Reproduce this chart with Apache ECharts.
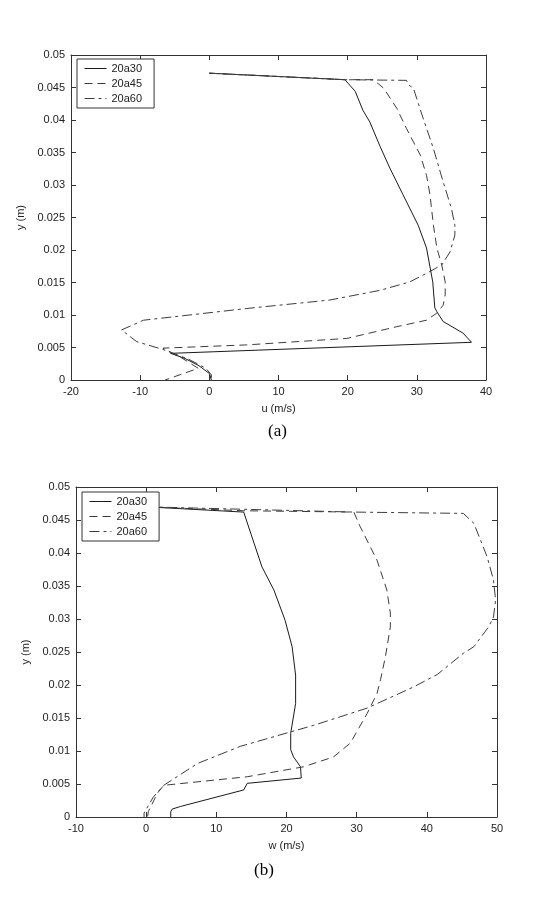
<!DOCTYPE html>
<html>
<head>
<meta charset="utf-8">
<script src="https://cdn.jsdelivr.net/npm/echarts@6/dist/echarts.min.js"></script>
<style>
  html, body { margin: 0; padding: 0; background: #fff; }
  #chart { width: 537px; height: 912px; }
</style>
</head>
<body>
<div id="chart"></div>
<script>
// names shown in both legends
const names = ["20a30", "20a45", "20a60"];

// (a) u (m/s) vs y (m)
const a30_u = [0, 19.6, 21.1, 22.2, 23.2, 24.7, 26.1, 28.0, 30.2, 31.4, 32.3, 32.6, 32.9, 33.8, 36.7, 37.9, -5.6, -3.5, -1.5, 0, 0.3];
const a30_y = [0.0472, 0.0462, 0.0444, 0.0415, 0.0397, 0.0359, 0.0326, 0.0285, 0.0238, 0.0203, 0.0151, 0.0111, 0.0105, 0.0090, 0.0072, 0.0058, 0.0041, 0.0033, 0.0022, 0.0010, 0];

const a45_u = [0, 19.6, 23.7, 25.2, 27.1, 28.5, 30.5, 31.4, 31.9, 32.4, 32.9, 33.6, 34.1, 34.1, 33.8, 32.9, 31.4, 27.1, 19.9, 5.4, -6.7, -4.0, -1.6, -6.4];
const a45_y = [0.0472, 0.0462, 0.0462, 0.0449, 0.0418, 0.0387, 0.0346, 0.0315, 0.0285, 0.0238, 0.0203, 0.0177, 0.0151, 0.0131, 0.0115, 0.0103, 0.0092, 0.0082, 0.0064, 0.0054, 0.0049, 0.0034, 0.0018, 0];

const a60_u = [0, 19.6, 28.5, 28.8, 29.5, 30.9, 32.4, 33.8, 35.0, 35.5, 35.5, 34.8, 33.6, 31.9, 29.0, 24.7, 17.4, 5.4, -9.5, -12.7, -10.5, -6.7, -3.0, -0.5, 0.3, 0.3];
const a60_y = [0.0472, 0.0462, 0.0461, 0.0454, 0.0449, 0.0403, 0.0356, 0.0305, 0.0264, 0.0238, 0.0223, 0.0197, 0.0177, 0.0167, 0.0151, 0.0138, 0.0123, 0.0110, 0.0092, 0.0077, 0.0059, 0.0047, 0.0032, 0.0018, 0.0008, 0];

// (b) w (m/s) vs y (m)
const b30_w = [0, 13.9, 14.9, 16.5, 18.2, 19.8, 20.8, 21.3, 21.3, 20.6, 20.6, 21.0, 22.0, 22.1, 14.4, 13.9, 4.9, 3.7, 3.5, 3.5];
const b30_y = [0.0470, 0.0462, 0.0430, 0.0379, 0.0344, 0.0298, 0.0258, 0.0215, 0.0172, 0.0127, 0.0102, 0.0091, 0.0076, 0.0059, 0.0051, 0.0041, 0.0016, 0.0012, 0.0008, 0];

const b45_w = [0, 13.9, 29.6, 30.5, 32.9, 34.3, 34.8, 34.8, 34.1, 33.4, 32.9, 31.5, 29.1, 26.7, 22.4, 14.4, 2.5, 1.6, 0.3, 0.2];
const b45_y = [0.0470, 0.0464, 0.0462, 0.0440, 0.0389, 0.0344, 0.0309, 0.0288, 0.0243, 0.0208, 0.0187, 0.0157, 0.0112, 0.0091, 0.0076, 0.0061, 0.0048, 0.0036, 0.0008, 0];

const b60_w = [0, 29.6, 45.2, 46.7, 48.6, 49.5, 49.8, 49.5, 48.8, 46.7, 45.2, 41.5, 38.1, 31.5, 23.9, 20.6, 13.4, 7.3, 2.5, 1.0, -0.3, -0.3];
const b60_y = [0.0470, 0.0462, 0.0460, 0.0445, 0.0394, 0.0359, 0.0329, 0.0303, 0.0288, 0.0258, 0.0248, 0.0216, 0.0197, 0.0165, 0.0139, 0.0129, 0.0107, 0.0081, 0.0048, 0.0030, 0.0006, 0];

const pts = (xs, ys) => xs.map((x, i) => [x, ys[i]]);

const ink = "#222";
const font = "Liberation Sans";

const styles = {
  "20a30": { color: "#1a1a1a", type: "solid" },
  "20a45": { color: "#3c3c3c", type: [8, 5] },
  "20a60": { color: "#3c3c3c", type: [10, 4, 3, 4] },
};

function lineSeries(name, data, xi, yi) {
  return {
    name: name,
    type: "line",
    xAxisIndex: xi,
    yAxisIndex: yi,
    data: data,
    symbol: "none",
    animation: false,
    lineStyle: { width: 1, color: styles[name].color, type: styles[name].type },
    itemStyle: { color: styles[name].color },
  };
}

function xAx(grid, min, max, name, top) {
  return {
    type: "value",
    gridIndex: grid,
    position: top ? "top" : "bottom",
    min: min,
    max: max,
    interval: 10,
    name: top ? "" : name,
    nameLocation: "middle",
    nameGap: 23,
    nameTextStyle: { fontFamily: font, fontSize: 11, color: ink },
    axisLine: { show: true, onZero: false, lineStyle: { color: "#333", width: 1 } },
    axisTick: { show: true, inside: true, length: 5, lineStyle: { color: "#333" } },
    axisLabel: { show: !top, fontFamily: font, fontSize: 11, color: ink, margin: 6 },
    splitLine: { show: false },
  };
}

function yAx(grid, right) {
  return {
    type: "value",
    gridIndex: grid,
    position: right ? "right" : "left",
    min: 0,
    max: 0.05,
    interval: 0.005,
    name: right ? "" : "y (m)",
    nameLocation: "middle",
    nameGap: 36,
    nameTextStyle: { fontFamily: font, fontSize: 11, color: ink },
    axisLine: { show: true, onZero: false, lineStyle: { color: "#333", width: 1 } },
    axisTick: { show: true, inside: true, length: 5, lineStyle: { color: "#333" } },
    axisLabel: {
      show: !right,
      fontFamily: font,
      fontSize: 11,
      color: ink,
      margin: 6,
      formatter: (v) => (v === 0 ? "0" : String(+v.toFixed(3))),
    },
    splitLine: { show: false },
  };
}

function legendAt(left, top, padding) {
  return {
    data: names,
    orient: "vertical",
    left: left,
    top: top,
    itemWidth: 22,
    itemHeight: 12,
    itemGap: 4,
    padding: padding,
    borderColor: "#333",
    borderWidth: 1,
    borderRadius: 0,
    backgroundColor: "#fff",
    selectedMode: false,
    // hide the marker dot, keep a thin line sample
    itemStyle: { opacity: 0 },
    lineStyle: { width: 1 },
    textStyle: { fontFamily: font, fontSize: 11, color: ink },
  };
}

const chart = echarts.init(document.getElementById("chart"), null, { renderer: "canvas" });

chart.setOption({
  backgroundColor: "#fff",
  animation: false,
  grid: [
    { left: 71, top: 55, width: 415, height: 325 },
    { left: 76, top: 487, width: 421, height: 330 },
  ],
  xAxis: [
    xAx(0, -20, 40, "u (m/s)", false),
    xAx(0, -20, 40, "", true),
    xAx(1, -10, 50, "w (m/s)", false),
    xAx(1, -10, 50, "", true),
  ],
  yAxis: [yAx(0, false), yAx(0, true), yAx(1, false), yAx(1, true)],
  legend: [legendAt(77, 59, [4, 12, 4, 7]), legendAt(82, 492, [4, 12, 4, 7])],
  series: [
    lineSeries("20a30", pts(a30_u, a30_y), 0, 0),
    lineSeries("20a45", pts(a45_u, a45_y), 0, 0),
    lineSeries("20a60", pts(a60_u, a60_y), 0, 0),
    lineSeries("20a30", pts(b30_w, b30_y), 2, 2),
    lineSeries("20a45", pts(b45_w, b45_y), 2, 2),
    lineSeries("20a60", pts(b60_w, b60_y), 2, 2),
  ],
  graphic: [
    { type: "text", left: 268, top: 423, style: { text: "(a)", font: '17px "Liberation Serif"', fill: "#000" } },
    { type: "text", left: 254, top: 862, style: { text: "(b)", font: '17px "Liberation Serif"', fill: "#000" } },
  ],
});
</script>
</body>
</html>
